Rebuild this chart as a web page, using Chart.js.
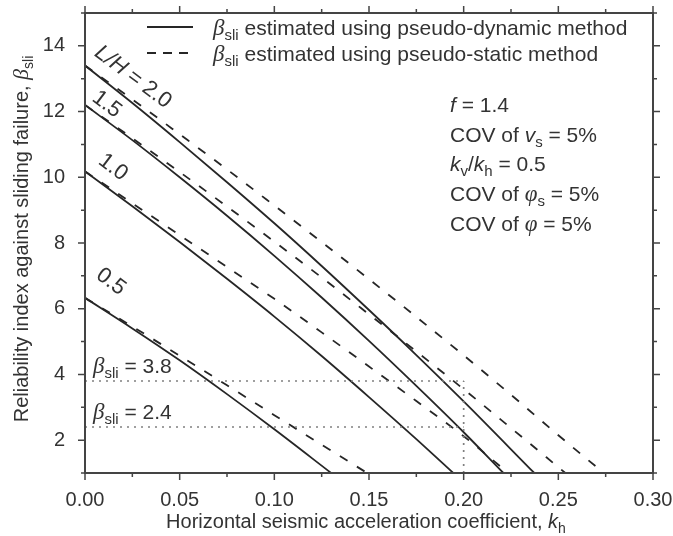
<!DOCTYPE html>
<html>
<head>
<meta charset="utf-8">
<script src="https://cdn.jsdelivr.net/npm/chart.js@4.4.0/dist/chart.umd.min.js"></script>
<style>
  html, body { margin: 0; padding: 0; background: #fff; }
</style>
</head>
<body>
<canvas id="chart" width="673" height="536"></canvas>
<script>
// β_sli vs k_h, L/H = 0.5 ... 2.0 (solid: pseudo-dynamic, dashed: pseudo-static)
const kDyn05 = [0, 0.025, 0.05, 0.075, 0.10, 0.13];
const betaDyn05 = [6.33, 5.40, 4.43, 3.40, 2.33, 1.0];
const kSta05 = [0, 0.025, 0.05, 0.075, 0.10, 0.125, 0.149];
const betaSta05 = [6.33, 5.46, 4.57, 3.67, 2.76, 1.86, 1.0];

const kDyn10 = [0, 0.025, 0.05, 0.075, 0.10, 0.125, 0.15, 0.175, 0.1945];
const betaDyn10 = [10.18, 9.12, 8.03, 6.91, 5.76, 4.56, 3.31, 2.03, 1.0];
const kSta10 = [0, 0.025, 0.05, 0.075, 0.10, 0.125, 0.15, 0.175, 0.20, 0.2236];
const betaSta10 = [10.18, 9.21, 8.24, 7.27, 6.30, 5.28, 4.24, 3.19, 2.12, 1.0];

const kDyn15 = [0, 0.025, 0.05, 0.075, 0.10, 0.125, 0.15, 0.175, 0.20, 0.221];
const betaDyn15 = [12.20, 11.13, 10.00, 8.83, 7.61, 6.34, 5.02, 3.65, 2.24, 1.0];
const kSta15 = [0, 0.025, 0.05, 0.075, 0.10, 0.125, 0.15, 0.175, 0.20, 0.225, 0.2537];
const betaSta15 = [12.20, 11.19, 10.16, 9.11, 8.04, 6.95, 5.83, 4.70, 3.55, 2.37, 1.0];

const kDyn20 = [0, 0.025, 0.05, 0.075, 0.10, 0.125, 0.15, 0.175, 0.20, 0.2373];
const betaDyn20 = [13.40, 12.26, 11.07, 9.85, 8.60, 7.30, 5.96, 4.59, 3.18, 1.0];
const kSta20 = [0, 0.025, 0.05, 0.075, 0.10, 0.125, 0.15, 0.175, 0.20, 0.225, 0.25, 0.274];
const betaSta20 = [13.40, 12.37, 11.31, 10.24, 9.14, 8.03, 6.90, 5.75, 4.58, 3.38, 2.15, 1.0];

const ratioLabels = ['0.5', '1.0', '1.5', '2.0'];
// where the L/H labels sit (k, beta)
const ratioLabelK = [0.0137, 0.0148, 0.0115, 0.0254];
const ratioLabelBeta = [6.82, 10.30, 12.22, 13.05];

const yTicks = [2, 4, 6, 8, 10, 12, 14];

// target reliability levels and the k_h they are read at
const refBeta = [3.8, 2.4];
const refK = 0.2;

const SANS = '"Liberation Sans", Arial, sans-serif';
const SERIF = '"Liberation Serif", "Times New Roman", serif';
const INK = '#333';

function pts(ks, bs) {
  return ks.map((k, i) => ({ x: k, y: bs[i] }));
}

function curve(ks, bs, dashed) {
  return {
    data: pts(ks, bs),
    borderColor: '#262626',
    borderWidth: 1.8,
    borderDash: dashed ? [9, 11] : [],
    pointRadius: 0,
    cubicInterpolationMode: 'monotone',
    fill: false
  };
}

function dotted(data) {
  return {
    data: data,
    borderColor: '#808080',
    borderWidth: 1.7,
    borderDash: [2, 5],
    pointRadius: 0,
    fill: false
  };
}

const datasets = [];
refBeta.forEach(b => datasets.push(dotted([{ x: 0, y: b }, { x: refK, y: b }])));
datasets.push(dotted([{ x: refK, y: 1 }, { x: refK, y: Math.max(...refBeta) }]));
datasets.push(curve(kDyn05, betaDyn05, false));
datasets.push(curve(kSta05, betaSta05, true));
datasets.push(curve(kDyn10, betaDyn10, false));
datasets.push(curve(kSta10, betaSta10, true));
datasets.push(curve(kDyn15, betaDyn15, false));
datasets.push(curve(kSta15, betaSta15, true));
datasets.push(curve(kDyn20, betaDyn20, false));
datasets.push(curve(kSta20, betaSta20, true));

// draws a run of [text, font, dy] pieces on one line
function rich(ctx, parts, x, y, align) {
  let w = 0;
  parts.forEach(p => { ctx.font = p[1]; w += ctx.measureText(p[0]).width; });
  let cx = align === 'center' ? x - w / 2 : x;
  parts.forEach(p => {
    ctx.font = p[1];
    ctx.fillText(p[0], cx, y + (p[2] || 0));
    cx += ctx.measureText(p[0]).width;
  });
}

const F = '20px ' + SANS;
const FI = 'italic 20px ' + SANS;
const SUB = '14px ' + SANS;
const GR = 'italic 22px ' + SERIF;
const L = '21px ' + SANS;
const LI = 'italic 21px ' + SANS;
const LSUB = '15px ' + SANS;
const LGR = 'italic 23px ' + SERIF;
const R = '22px ' + SANS;
const RI = 'italic 22px ' + SANS;
const beta = (rest) => [['β', LGR], ['sli', LSUB, 5], [rest, L]];

const frameTicks = {
  id: 'frameTicks',
  afterDraw(chart) {
    const { ctx, chartArea: a, scales: { x, y } } = chart;
    ctx.save();
    ctx.strokeStyle = '#444';
    ctx.lineWidth = 2;
    ctx.strokeRect(a.left, a.top, a.right - a.left, a.bottom - a.top);

    ctx.lineWidth = 1.5;
    const xMaj = x.ticks.map(t => t.value);
    const xMin = xMaj.slice(1).map((v, i) => (v + xMaj[i]) / 2);
    const yMaj = y.ticks.map(t => t.value);
    const yMin = [yMaj[0] - 1].concat(yMaj.map(v => v + 1));
    ctx.beginPath();
    const xt = (v, len) => {
      const px = x.getPixelForValue(v);
      ctx.moveTo(px, a.bottom); ctx.lineTo(px, a.bottom + len);
      ctx.moveTo(px, a.top); ctx.lineTo(px, a.top - len);
    };
    const yt = (v, len) => {
      const py = y.getPixelForValue(v);
      ctx.moveTo(a.left, py); ctx.lineTo(a.left - len, py);
      ctx.moveTo(a.right, py); ctx.lineTo(a.right + len, py);
    };
    xMaj.forEach(v => xt(v, 7));
    xMin.forEach(v => xt(v, 4));
    yMaj.forEach(v => yt(v, 7));
    yMin.forEach(v => yt(v, 4));
    ctx.stroke();
    ctx.restore();
  }
};

const notes = {
  id: 'notes',
  afterDraw(chart) {
    const { ctx, chartArea: a, scales: { x, y } } = chart;
    ctx.save();
    ctx.fillStyle = INK;
    ctx.textBaseline = 'alphabetic';

    // axis titles
    rich(ctx, [['Horizontal seismic acceleration coefficient, ', F], ['k', FI], ['h', SUB, 5]],
      (a.left + a.right) / 2 - 3, 528, 'center');
    ctx.save();
    ctx.translate(28, (a.top + a.bottom) / 2 - 4);
    ctx.rotate(-Math.PI / 2);
    rich(ctx, [['Reliability index against sliding failure, ', F], ['β', GR], ['sli', SUB, 5]], 0, 0, 'center');
    ctx.restore();

    // legend
    ctx.strokeStyle = '#262626';
    ctx.lineWidth = 1.8;
    ctx.beginPath();
    ctx.moveTo(147, 27); ctx.lineTo(193, 27);
    ctx.stroke();
    ctx.setLineDash([9, 7]);
    ctx.beginPath();
    ctx.moveTo(147, 53); ctx.lineTo(193, 53);
    ctx.stroke();
    ctx.setLineDash([]);
    rich(ctx, beta(' estimated using pseudo-dynamic method'), 213, 35);
    rich(ctx, beta(' estimated using pseudo-static method'), 213, 61);

    // parameters
    const px = 450;
    rich(ctx, [['f', LI], [' = 1.4', L]], px, 112);
    rich(ctx, [['COV of ', L], ['v', LI], ['s', LSUB, 5], [' = 5%', L]], px, 142);
    rich(ctx, [['k', LI], ['v', LSUB, 5], ['/', L], ['k', LI], ['h', LSUB, 5], [' = 0.5', L]], px, 171);
    rich(ctx, [['COV of ', L], ['φ', LGR], ['s', LSUB, 5], [' = 5%', L]], px, 201);
    rich(ctx, [['COV of ', L], ['φ', LGR], [' = 5%', L]], px, 231);

    // reliability level labels above the dotted lines
    refBeta.forEach(b => {
      rich(ctx, beta(' = ' + b.toFixed(1)), a.left + 8, y.getPixelForValue(b) - 8);
    });

    // L/H labels along the curves
    ctx.textBaseline = 'middle';
    ratioLabels.forEach((t, i) => {
      ctx.save();
      ctx.translate(x.getPixelForValue(ratioLabelK[i]), y.getPixelForValue(ratioLabelBeta[i]));
      ctx.rotate(37 * Math.PI / 180);
      const parts = i === ratioLabels.length - 1 ? [['L/H', RI], [' = ' + t, R]] : [[t, R]];
      rich(ctx, parts, 0, 0, 'center');
      ctx.restore();
    });
    ctx.restore();
  }
};

new Chart(document.getElementById('chart').getContext('2d'), {
  type: 'line',
  data: { datasets: datasets },
  options: {
    responsive: false,
    animation: false,
    layout: { padding: { top: 13, right: 20, left: 0, bottom: 0 } },
    plugins: { legend: { display: false }, tooltip: { enabled: false } },
    scales: {
      x: {
        type: 'linear',
        min: 0,
        max: 0.3,
        grid: { display: false },
        border: { display: false },
        ticks: {
          stepSize: 0.05,
          maxRotation: 0,
          padding: 7,
          color: INK,
          font: { size: 20, family: SANS },
          callback: v => v.toFixed(2)
        },
        afterFit: s => {
          s.height = 63;
          s.paddingLeft = 0;
          s.paddingRight = 0;
        }
      },
      y: {
        type: 'linear',
        min: 1,
        max: 15,
        grid: { display: false },
        border: { display: false },
        afterBuildTicks: s => { s.ticks = yTicks.map(v => ({ value: v })); },
        ticks: {
          padding: 12,
          color: INK,
          font: { size: 20, family: SANS }
        },
        afterFit: s => {
          s.width = 85;
          s.paddingTop = 0;
          s.paddingBottom = 0;
        }
      }
    }
  },
  plugins: [frameTicks, notes]
});
</script>
</body>
</html>
